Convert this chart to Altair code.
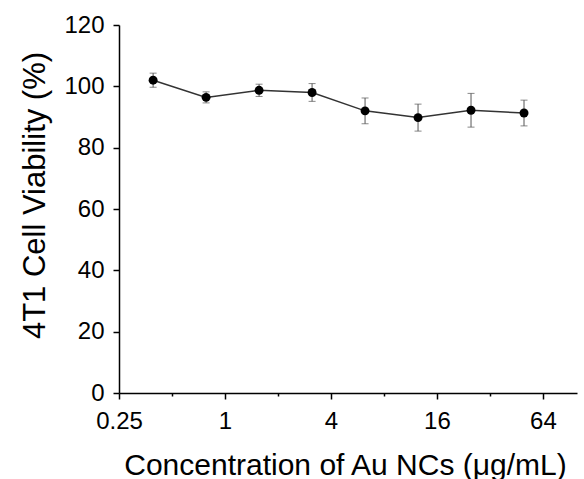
import altair as alt
import pandas as pd

conc = [0.390625, 0.78125, 1.5625, 3.125, 6.25, 12.5, 25, 50]
viability = [102.0, 96.4, 98.7, 98.0, 92.0, 89.8, 92.2, 91.3]
sd = [2.3, 1.8, 2.0, 2.9, 4.2, 4.4, 5.5, 4.2]

x_ticks = [0.25, 0.5, 1, 2, 4, 8, 16, 32, 64]
x_major = [0.25, 1, 4, 16, 64]
y_ticks = [0, 10, 20, 30, 40, 50, 60, 70, 80, 90, 100, 110, 120]

df = pd.DataFrame({"conc": conc, "v": viability, "sd": sd})
df["lo"] = df["v"] - df["sd"]
df["hi"] = df["v"] + df["sd"]

FONT = "Liberation Sans"

xmaj = "indexof([0.25,1,4,16,64], datum.value) >= 0"
ymaj = "datum.value % 20 == 0"

xenc = alt.X(
    "conc:Q",
    scale=alt.Scale(type="log", base=2, domain=[0.25, 100], nice=False),
    axis=alt.Axis(
        values=x_ticks,
        format="~g",
        labelExpr=f"{xmaj} ? datum.label : ''",
        tickSize={"condition": {"test": xmaj, "value": 6}, "value": 3},
        labelPadding=10,
        title="Concentration of Au NCs (μg/mL)",
        titleX=226,
        titleY=81,
        titleBaseline="alphabetic",
        titleAlign="center",
        titleFontSize=30,
    ),
)
yenc_scale = alt.Scale(domain=[0, 120], nice=False)

err = alt.Chart(df).mark_errorbar(
    ticks={"size": 7, "color": "#555555", "strokeWidth": 1}, color="#555555", thickness=1
).encode(
    x=xenc,
    y=alt.Y(
        "lo:Q",
        scale=yenc_scale,
        axis=alt.Axis(
            values=y_ticks,
            labelExpr=f"{ymaj} ? datum.label : ''",
            tickSize={"condition": {"test": ymaj, "value": 6}, "value": 3},
            labelPadding=9,
            title="4T1 Cell Viability (%)",
            titleX=-75,
            titleY=170,
            titleBaseline="alphabetic",
            titleAlign="center",
            titleAngle=270,
            titleFontSize=31,
        ),
    ),
    y2="hi:Q",
)

line = alt.Chart(df).mark_line(color="#333333", strokeWidth=1.5).encode(
    x="conc:Q", y="v:Q"
)
pts = alt.Chart(df).mark_point(filled=True, color="#000000", size=80, opacity=1).encode(
    x="conc:Q", y="v:Q"
)

chart = (
    alt.layer(err, line, pts)
    .properties(
        width=458,
        height=368,
        autosize="none",
        padding={"left": 119, "top": 25, "right": 7, "bottom": 86},
    )
    .configure_view(stroke=None)
    .configure_axis(
        grid=False,
        domainColor="#000000",
        domainWidth=1.5,
        tickColor="#000000",
        tickWidth=1.5,
        labelFont=FONT,
        labelFontSize=24,
        labelColor="#000000",
        titleFont=FONT,
        titleFontWeight="normal",
        titleColor="#000000",
        labelFlush=False,
        labelOverlap=False,
    )
)

chart.save("out.html", embed_options={"renderer": "svg", "actions": False})
